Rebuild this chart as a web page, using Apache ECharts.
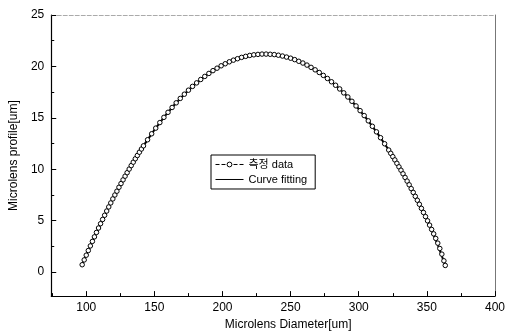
<!DOCTYPE html>
<html>
<head>
<meta charset="utf-8">
<script src="https://cdn.jsdelivr.net/npm/echarts@6/dist/echarts.min.js"></script>
<style>
  html, body { margin: 0; padding: 0; background: #fff; }
  #chart { width: 508px; height: 336px; }
</style>
</head>
<body>
<div id="chart"></div>
<script>
var measX = [97,98.5,100,101.5,103,104.5,106,107.5,109,110.5,112,113.5,115,116.5,118,119.5,121,122.5,124,125.5,
  127,128.5,130,131.5,133,134.5,136,137.5,139,140.5,142,145,148,151,154,
  157,160,163,166,169,172,175,178,181,184,187,190,193,196,199,202,205,208,211,214,
  217,220,223,226,229,232,235,238,241,244,247,250,253,256,259,262,265,268,271,274,
  277,280,283,286,289,292,295,298,301,304,307,310,313,316,319,322,323.5,325,326.5,328,
  329.5,331,332.5,334,335.5,337,338.5,340,341.5,343,344.5,346,347.5,349,350.5,352,353.5,355,
  356.5,358,359.5,361,362.5,363.5];
var measY = [0.72,1.19,1.65,2.10,2.55,2.99,3.43,3.86,4.29,4.71,5.12,5.53,5.94,6.34,6.73,7.12,7.50,7.87,8.25,8.61,
  8.97,9.33,9.67,10.02,10.36,10.69,11.02,11.34,11.66,11.97,12.28,12.87,13.45,14.00,14.54,
  15.05,15.54,16.01,16.46,16.89,17.30,17.69,18.06,18.40,18.73,19.03,19.32,19.59,19.83,20.06,20.26,20.45,20.61,20.75,20.88,
  20.98,21.07,21.13,21.17,21.20,21.20,21.18,21.15,21.09,21.01,20.91,20.80,20.66,20.50,20.33,20.13,19.91,19.67,19.41,19.13,
  18.83,18.51,18.17,17.81,17.43,17.03,16.61,16.16,15.70,15.22,14.71,14.18,13.64,13.07,12.48,11.87,11.55,11.23,10.91,10.58,
  10.24,9.91,9.56,9.21,8.85,8.49,8.12,7.75,7.37,6.99,6.60,6.20,5.80,5.40,4.99,4.57,4.15,3.72,
  3.28,2.82,2.30,1.75,1.10,0.65];

// fitted curve
var fitX = [97,112,127,142,157,172,187,202,217,232,247,262,277,292,307,322,337,352,363.5];
var fitY = [0.72,5.12,8.97,12.28,15.05,17.30,19.03,20.26,20.98,21.20,20.91,20.13,18.83,17.03,14.71,11.87,8.49,4.57,0.65];

var seriesNames = ['측정 data', 'Curve fitting'];

var measData = measX.map(function (x, i) { return [x, measY[i]]; });
var fitData = fitX.map(function (x, i) { return [x, fitY[i]]; });

var chart = echarts.init(document.getElementById('chart'), null, { renderer: 'canvas' });

var font = 'Arial, "Liberation Sans", sans-serif';

var option = {
    backgroundColor: '#fff',
    animation: false,
    grid: { left: 46, right: 11, top: 15, bottom: 39 },
    legend: {
        orient: 'vertical',
        left: 211,
        top: 155,
        itemWidth: 28,
        itemHeight: 6,
        itemGap: 4,
        padding: [4, 8, 4, 4],
        borderColor: '#000',
        borderWidth: 1,
        textStyle: { color: '#000', fontSize: 11, fontFamily: font + ', "Noto Sans CJK KR"' },
        data: [
            { name: seriesNames[0],
              itemStyle: { color: '#fff', borderColor: '#000', borderWidth: 1 },
              lineStyle: { type: 'dashed', width: 1, color: '#000', opacity: 1 } },
            { name: seriesNames[1],
              itemStyle: { opacity: 0 },
              lineStyle: { width: 1, color: '#000', opacity: 1 } }
        ]
    },
    xAxis: [{
        type: 'value',
        min: 74.3,
        max: 400,
        name: 'Microlens Diameter[um]',
        nameLocation: 'middle',
        nameGap: 21,
        nameTextStyle: { color: '#000', fontSize: 12, fontFamily: font, padding: [0, 0, 0, 30] },
        axisLine: { onZero: false, lineStyle: { color: '#000', width: 1.2 } },
        axisTick: { inside: true, length: 5, lineStyle: { color: '#000' } },
        minorTick: { show: true, splitNumber: 2, length: 3, lineStyle: { color: '#000' } },
        axisLabel: { showMinLabel: false, color: '#000', fontSize: 12, fontFamily: font, margin: 6 },
        splitLine: { show: false }
    }, {
        type: 'value',
        position: 'top',
        min: 74.3,
        max: 400,
        axisLine: { show: true, onZero: false, lineStyle: { color: '#aaa', type: 'dashed', width: 1 } },
        axisTick: { show: false },
        axisLabel: { show: false },
        splitLine: { show: false }
    }],
    yAxis: [{
        type: 'value',
        min: -2.33,
        max: 25,
        name: 'Microlens profile[um]',
        nameLocation: 'middle',
        nameGap: 28,
        nameTextStyle: { color: '#000', fontSize: 12, fontFamily: font },
        axisLine: { show: true, onZero: false, lineStyle: { color: '#000', width: 1.2 } },
        axisTick: { inside: true, length: 5, lineStyle: { color: '#000' } },
        minorTick: { show: true, splitNumber: 2, length: 3, lineStyle: { color: '#000' } },
        axisLabel: { showMinLabel: false, color: '#000', fontSize: 12, fontFamily: font, margin: 7 },
        splitLine: { show: false }
    }, {
        type: 'value',
        position: 'right',
        min: -2.33,
        max: 25,
        axisLine: { show: true, onZero: false, lineStyle: { color: '#777', width: 1 } },
        axisTick: { show: false },
        axisLabel: { show: false },
        splitLine: { show: false }
    }],
    series: [{
        name: seriesNames[1],
        type: 'line',
        data: fitData,
        smooth: true,
        showSymbol: false,
        symbol: 'none',
        lineStyle: { color: '#000', width: 2 },
        itemStyle: { color: '#000' },
        z: 2
    }, {
        name: seriesNames[0],
        type: 'line',
        data: measData,
        symbol: 'circle',
        symbolSize: 4.5,
        showAllSymbol: true,
        lineStyle: { width: 0, opacity: 0 },
        itemStyle: { color: '#fff', borderColor: '#000', borderWidth: 1 },
        z: 3
    }]
};

chart.setOption(option);
</script>
</body>
</html>
